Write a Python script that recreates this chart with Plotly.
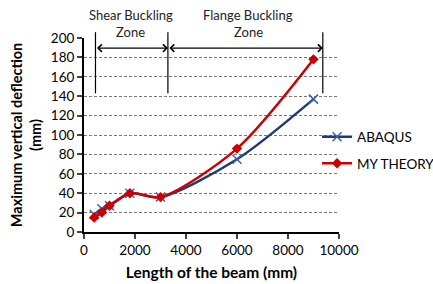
import plotly.graph_objects as go

length_mm = [400, 700, 1000, 1800, 3000, 6000, 9000]
abaqus = [18, 24, 27, 40, 36, 75, 137]
my_theory = [15, 20, 27, 40, 36, 86, 178]

x_ticks = [0, 2000, 4000, 6000, 8000, 10000]
x_tick_labels = ["0", "2000", "4000", "6000", "8000", "10000"]
y_ticks = [0, 20, 40, 60, 80, 100, 120, 140, 160, 180, 200]

zone_lines_x = [450, 3290, 9365]
zone_labels = [("Shear Buckling", "Zone", 1830), ("Flange Buckling", "Zone", 6450)]

FONT = "Lato, Open Sans, sans-serif"

fig = go.Figure()
fig.add_trace(go.Scatter(
    x=length_mm, y=abaqus, name="ABAQUS", mode="lines+markers",
    line=dict(color="#1F3A7A", width=2.5, shape="spline", smoothing=0.8),
    marker=dict(symbol="x-thin", size=9, line=dict(color="#3C5FA8", width=1.5)),
    legendgroup="a",
))
fig.add_trace(go.Scatter(
    x=length_mm, y=my_theory, name="MY THEORY", mode="lines+markers",
    line=dict(color="#CC0000", width=2.5, shape="spline", smoothing=0.8),
    marker=dict(symbol="diamond", size=8, color="#CC0000"),
    legendgroup="b",
))

shapes = []
for xv in zone_lines_x:
    shapes.append(dict(type="line", xref="x", yref="paper", x0=xv, x1=xv,
                       y0=0.715, y1=1.03, line=dict(color="black", width=1.2)))

annotations = []
for xa, xb in [(zone_lines_x[0], zone_lines_x[1]), (zone_lines_x[1], zone_lines_x[2])]:
    annotations.append(dict(x=xb, y=0.948, xref="x", yref="paper",
                            ax=xa, ay=0, axref="x", ayref="pixel",
                            showarrow=True, arrowhead=4, startarrowhead=4,
                            arrowside="end+start", arrowsize=1.2, arrowwidth=1.2,
                            arrowcolor="black", text=""))
for line1, line2, xv in zone_labels:
    annotations.append(dict(x=xv, y=1.118, xref="x", yref="paper", text=line1,
                            showarrow=False, yanchor="middle",
                            font=dict(family=FONT, size=13, color="#222")))
    annotations.append(dict(x=xv, y=1.031, xref="x", yref="paper", text=line2,
                            showarrow=False, yanchor="middle",
                            font=dict(family=FONT, size=13, color="#222")))

fig.update_layout(
    width=433, height=284,
    margin=dict(l=84, r=94, t=38, b=52, autoexpand=False),
    paper_bgcolor="white", plot_bgcolor="white",
    font=dict(family=FONT, size=13, color="black"),
    shapes=shapes, annotations=annotations,
    showlegend=True,
    legend=dict(x=0.914, y=0.57, xanchor="left", yanchor="top",
                bgcolor="rgba(0,0,0,0)", font=dict(size=13.5, family=FONT),
                itemwidth=30, tracegroupgap=6, traceorder="grouped"),
)
fig.update_xaxes(
    range=[0, 10000], tickvals=x_ticks, ticktext=x_tick_labels,
    ticks="outside", ticklen=5, tickwidth=1.5,
    showline=True, linecolor="black", linewidth=2, showgrid=False, zeroline=False,
    tickfont=dict(size=13.5),
    title=dict(text="<b>Length of the beam (mm)</b>", font=dict(size=15.5), standoff=10),
)
fig.update_yaxes(
    range=[0, 200], tickvals=y_ticks, ticks="outside", ticklen=5, tickwidth=1.5,
    showline=True, linecolor="black", linewidth=2,
    showgrid=True, gridcolor="#777", griddash="3px,2px", gridwidth=1, zeroline=False,
    tickfont=dict(size=13.5),
    title=dict(text="<b>Maximum vertical deflection<br>(mm)</b>", font=dict(size=14.5), standoff=6),
)

fig.write_html("out.html", config={"displayModeBar": False},
               post_script="document.body.style.margin='0';")
